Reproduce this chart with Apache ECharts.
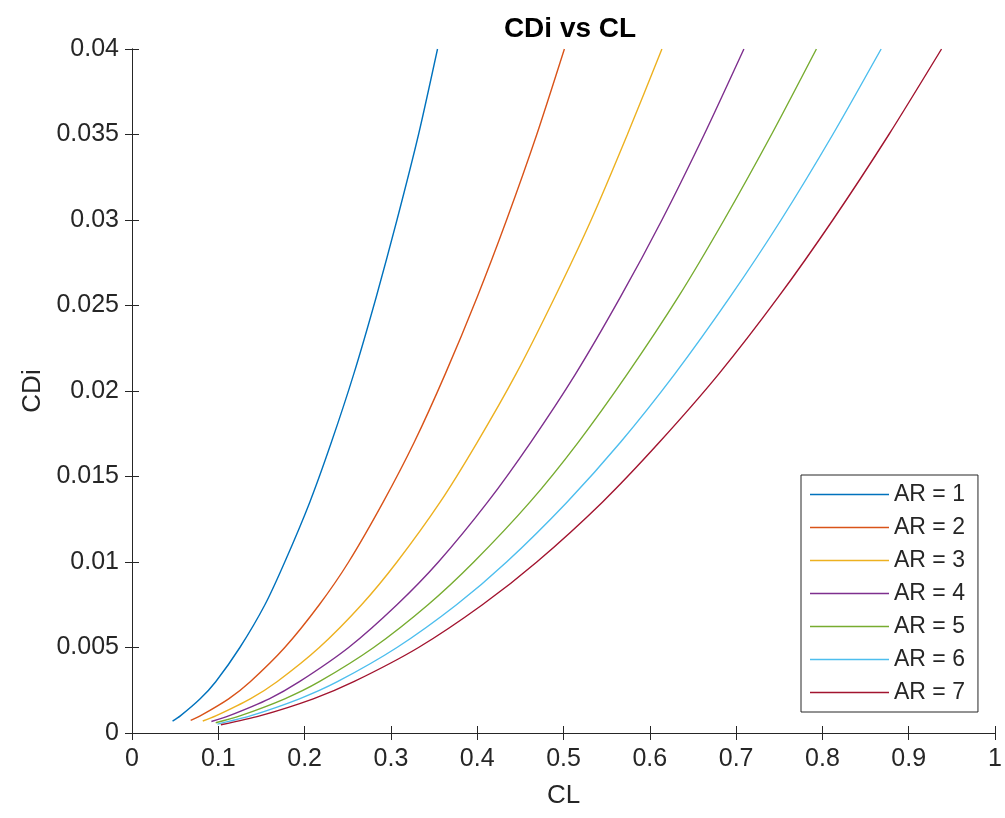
<!DOCTYPE html>
<html>
<head>
<meta charset="utf-8">
<script src="https://cdn.jsdelivr.net/npm/echarts@6/dist/echarts.min.js"></script>
<style>html,body{margin:0;padding:0;background:#fff}#c{width:1005px;height:818px}</style>
</head>
<body>
<div id="c"></div>
<script>
// CDi values (shared after each curve's first point)
const cdiGrid = [0.001, 0.002, 0.003, 0.005, 0.0075, 0.01, 0.0135, 0.017, 0.021, 0.0255, 0.03, 0.035, 0.04];
const seriesNames = ['AR = 1', 'AR = 2', 'AR = 3', 'AR = 4', 'AR = 5', 'AR = 6', 'AR = 7'];
const startCL  = [0.047, 0.068, 0.082, 0.092, 0.097, 0.099, 0.103];
const startCDi = [0.0007, 0.00074, 0.0007, 0.00067, 0.0006, 0.00052, 0.00048];
const cl_AR1 = [0.056, 0.079, 0.097, 0.125, 0.154, 0.177, 0.206, 0.231, 0.257, 0.283, 0.307, 0.332, 0.354];
const cl_AR2 = [0.079, 0.112, 0.137, 0.177, 0.217, 0.251, 0.291, 0.327, 0.363, 0.400, 0.434, 0.469, 0.501];
const cl_AR3 = [0.097, 0.137, 0.168, 0.217, 0.266, 0.307, 0.357, 0.400, 0.445, 0.490, 0.532, 0.574, 0.614];
const cl_AR4 = [0.112, 0.159, 0.194, 0.251, 0.307, 0.355, 0.412, 0.462, 0.514, 0.566, 0.614, 0.663, 0.709];
const cl_AR5 = [0.125, 0.177, 0.217, 0.280, 0.343, 0.396, 0.461, 0.517, 0.574, 0.633, 0.686, 0.741, 0.793];
const cl_AR6 = [0.137, 0.194, 0.238, 0.307, 0.376, 0.434, 0.504, 0.566, 0.629, 0.693, 0.752, 0.812, 0.868];
const cl_AR7 = [0.148, 0.210, 0.257, 0.332, 0.406, 0.469, 0.545, 0.611, 0.680, 0.749, 0.812, 0.877, 0.938];
const clSets = [cl_AR1, cl_AR2, cl_AR3, cl_AR4, cl_AR5, cl_AR6, cl_AR7];
const colors = ['#0072BD', '#D95319', '#EDB120', '#7E2F8E', '#77AC30', '#4DBEEE', '#A2142F'];

const axisCol = '#262626';
const fontFam = '"Liberation Sans", Arial, Helvetica, sans-serif';

const series = clSets.map((cls, i) => {
  const data = [[startCL[i], startCDi[i]]];
  cls.forEach((x, j) => data.push([x, cdiGrid[j]]));
  return {
    name: seriesNames[i], type: 'line', data: data,
    xAxisIndex: 0, yAxisIndex: 0,
    symbol: 'none', showSymbol: false, smooth: 0.25,
    lineStyle: { color: colors[i], width: 1.4 },
    itemStyle: { color: colors[i] },
    animation: false
  };
});

const commonX = { type: 'value', min: 0, max: 1, interval: 0.1, splitLine: { show: false },
  axisLine: { show: true, lineStyle: { color: axisCol, width: 1 } },
  axisTick: { show: true, inside: true, length: 7, lineStyle: { color: axisCol } } };
const commonY = { type: 'value', min: 0, max: 0.04, interval: 0.005, splitLine: { show: false },
  axisLine: { show: true, lineStyle: { color: axisCol, width: 1 } },
  axisTick: { show: true, inside: true, length: 7, lineStyle: { color: axisCol } } };

const chart = echarts.init(document.getElementById('c'), null, { renderer: 'canvas' });
chart.setOption({
  animation: false,
  backgroundColor: '#fff',
  title: { text: 'CDi vs CL', left: 565, top: 10, textAlign: 'center',
    textStyle: { fontFamily: fontFam, fontSize: 28, fontWeight: 'bold', color: '#000' } },
  grid: { left: 132, right: 6, top: 49, bottom: 85, containLabel: false },
  xAxis: [
    Object.assign({}, commonX, { position: 'bottom', name: 'CL', nameLocation: 'middle', nameGap: 50,
      nameTextStyle: { fontFamily: fontFam, fontSize: 26, color: axisCol },
      axisLabel: { margin: 14, fontFamily: fontFam, fontSize: 25, color: axisCol } }),
    Object.assign({}, commonX, { position: 'top', axisLabel: { show: false } })
  ],
  yAxis: [
    Object.assign({}, commonY, { position: 'left', name: 'CDi', nameLocation: 'middle', nameGap: 79,
      nameTextStyle: { fontFamily: fontFam, fontSize: 26, color: axisCol },
      axisLabel: { margin: 13, fontFamily: fontFam, fontSize: 25, color: axisCol } }),
    Object.assign({}, commonY, { position: 'right', axisLabel: { show: false } })
  ],
  legend: {
    orient: 'vertical', left: 801, top: 475,
    icon: 'rect', itemWidth: 79, itemHeight: 1.5, itemGap: 10,
    padding: [8, 13, 8, 9],
    borderColor: axisCol, borderWidth: 1, backgroundColor: '#fff',
    textStyle: { fontFamily: fontFam, fontSize: 23, color: axisCol, lineHeight: 23 },
    data: seriesNames
  },
  series: series
});
</script>
</body>
</html>
